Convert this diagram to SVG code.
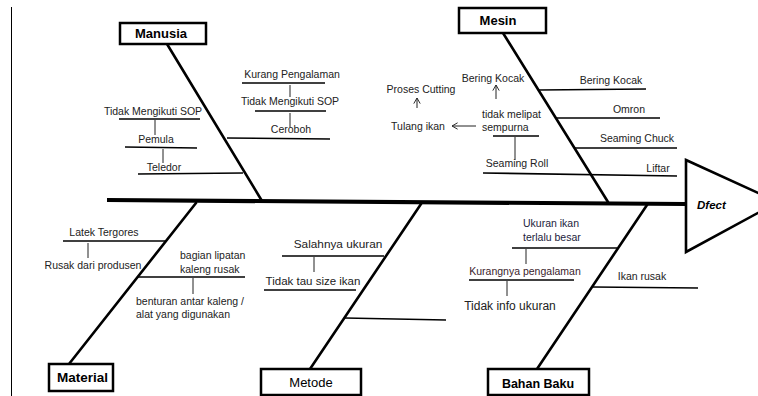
<svg xmlns="http://www.w3.org/2000/svg" width="758" height="396" viewBox="0 0 758 396">
<defs>
<style>
.bg{fill:#fff}
.box{fill:#fff;stroke:#000;stroke-width:2.5}
.bone{stroke:#000;stroke-width:2.6;fill:none;stroke-linecap:round}
.spine{stroke:#000;stroke-width:4.2;fill:none}
.sub{stroke:#000;stroke-width:1.6;fill:none}
.vl{stroke:#222;stroke-width:1;fill:none}
.arr{stroke:#222;stroke-width:1;fill:none;marker-end:url(#chev)}
text{font-family:"Liberation Sans",Arial,sans-serif;fill:#222}
.t{font-size:10.5px}
.tm{font-size:11.5px}
.lb{font-size:13px;font-weight:bold;fill:#000}
.lr{font-size:13px;fill:#000}
.c{text-anchor:middle}
</style>
<marker id="chev" viewBox="0 0 10 10" refX="9" refY="5" markerWidth="8" markerHeight="8" markerUnits="userSpaceOnUse" orient="auto">
<path d="M2,1 L9,5 L2,9" fill="none" stroke="#222" stroke-width="1.2"/>
</marker>
</defs>
<rect class="bg" x="0" y="0" width="758" height="396"/>
<line x1="11.5" y1="7" x2="11.5" y2="396" stroke="#000" stroke-width="1"/>

<g id="connectors">
<line class="spine" x1="107" y1="200" x2="686" y2="204"/>
<line class="bone" x1="167" y1="44" x2="262" y2="201"/>
<line class="bone" x1="503" y1="33" x2="608" y2="202"/>
<line class="bone" x1="196" y1="203" x2="69" y2="364"/>
<line class="bone" x1="421" y1="204" x2="310" y2="369"/>
<line class="bone" x1="647" y1="205" x2="537" y2="369"/>
</g>

<g id="effect">
<polygon points="686,160 778,202 686,252" fill="#fff" stroke="#000" stroke-width="2.6"/>
<text x="697" y="209" style="font-family:'Liberation Sans',Arial,sans-serif;font-size:11.5px;font-weight:bold;font-style:italic;fill:#000">Dfect</text>
</g>

<g id="manusia">
<rect class="box" x="120" y="23" width="86" height="21"/>
<text class="lb c" x="161" y="38">Manusia</text>
<line class="sub" x1="227" y1="138" x2="330" y2="139"/>
<text class="t c" x="291" y="133">Ceroboh</text>
<line class="vl" x1="290" y1="113" x2="290" y2="127"/>
<line class="sub" x1="255" y1="111" x2="326" y2="111"/>
<text class="t c" x="290" y="105">Tidak Mengikuti SOP</text>
<line class="vl" x1="290" y1="85" x2="290" y2="97"/>
<line class="sub" x1="242" y1="83" x2="325" y2="83"/>
<text class="t c" x="292" y="78">Kurang Pengalaman</text>
<text class="t c" x="153" y="115">Tidak Mengikuti SOP</text>
<line class="sub" x1="119" y1="119" x2="200" y2="119"/>
<line class="vl" x1="155" y1="120" x2="155" y2="135"/>
<text class="t c" x="156" y="143">Pemula</text>
<line class="sub" x1="125" y1="147" x2="197" y2="148"/>
<line class="vl" x1="163" y1="149" x2="163" y2="163"/>
<text class="t c" x="164" y="171">Teledor</text>
<line class="sub" x1="138" y1="174" x2="243" y2="173"/>
</g>

<g id="mesin">
<rect class="box" x="459" y="8" width="87" height="25"/>
<text class="lb c" x="498" y="25">Mesin</text>
<line class="sub" x1="539" y1="90" x2="646" y2="89"/>
<text class="t c" x="611" y="84">Bering Kocak</text>
<line class="sub" x1="555" y1="118" x2="660" y2="118"/>
<text class="t c" x="629" y="113">Omron</text>
<line class="sub" x1="575" y1="148" x2="677" y2="148"/>
<text class="t c" x="637" y="142">Seaming Chuck</text>
<line class="sub" x1="483" y1="173" x2="677" y2="176"/>
<text class="t c" x="658" y="172">Liftar</text>
<text class="t c" x="517" y="167">Seaming Roll</text>
<line class="sub" x1="493" y1="136" x2="539" y2="136"/>
<line class="vl" x1="515" y1="137" x2="515" y2="160"/>
<text class="t" x="482" y="118">tidak melipat</text>
<text class="t" x="482" y="131">sempurna</text>
<line class="arr" x1="496" y1="99" x2="496" y2="85"/>
<text class="t c" x="493" y="82">Bering Kocak</text>
<line class="arr" x1="476" y1="126" x2="452" y2="126"/>
<text class="t c" x="418" y="130">Tulang ikan</text>
<line class="arr" x1="417" y1="108" x2="417" y2="98"/>
<text class="t c" x="421" y="93">Proses Cutting</text>
</g>

<g id="material">
<rect class="box" x="49" y="364" width="64" height="27"/>
<text class="lb" x="57" y="382" style="font-size:13.5px">Material</text>
<text class="t c" x="104" y="236">Latek Tergores</text>
<line class="sub" x1="63" y1="241" x2="167" y2="241"/>
<line class="vl" x1="88" y1="243" x2="88" y2="258"/>
<text class="t c" x="93" y="269">Rusak dari produsen</text>
<text class="t" x="180" y="259">bagian lipatan</text>
<text class="t" x="180" y="273">kaleng rusak</text>
<line class="sub" x1="138" y1="277" x2="245" y2="277"/>
<line class="vl" x1="193" y1="278" x2="193" y2="294"/>
<text class="t" x="136" y="305">benturan antar kaleng /</text>
<text class="t" x="136" y="318">alat yang digunakan</text>
</g>

<g id="metode">
<rect class="box" x="261" y="369" width="100" height="26"/>
<text class="lr c" x="311" y="387">Metode</text>
<text class="tm c" x="338" y="248" style="font-size:11.8px">Salahnya ukuran</text>
<line class="sub" x1="282" y1="256" x2="384" y2="256"/>
<line class="vl" x1="314" y1="257" x2="314" y2="272"/>
<text class="tm c" x="313" y="285">Tidak tau size ikan</text>
<line class="sub" x1="264" y1="290" x2="356" y2="290"/>
<line class="sub" x1="345" y1="318" x2="446" y2="320"/>
</g>

<g id="bahan-baku">
<rect class="box" x="488" y="369" width="101" height="26"/>
<text class="lb c" x="538" y="388" style="font-size:12.5px">Bahan Baku</text>
<text class="t" x="523" y="227" style="fill:#1c1c3c">Ukuran ikan</text>
<text class="t" x="523" y="241" style="fill:#1c1c3c">terlalu besar</text>
<line class="sub" x1="512" y1="248" x2="617" y2="248"/>
<line class="vl" x1="526" y1="249" x2="526" y2="264"/>
<text class="t c" x="525" y="275" style="fill:#3a1c2c">Kurangnya pengalaman</text>
<line class="sub" x1="469" y1="280" x2="574" y2="280"/>
<line class="vl" x1="507" y1="281" x2="507" y2="296"/>
<text class="c" x="510" y="310" style="font-size:12px">Tidak info ukuran</text>
<text class="t c" x="642" y="280">Ikan rusak</text>
<line class="sub" x1="593" y1="287" x2="698" y2="288"/>
</g>
</svg>
